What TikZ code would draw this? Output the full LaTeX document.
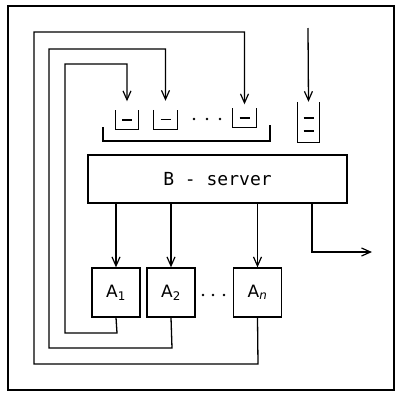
\documentclass[tikz,border=0pt]{standalone}
\usepackage{fontspec}
\setmainfont{DejaVu Sans}
\newfontfamily\monofnt{DejaVu Sans Mono}
\usetikzlibrary{arrows.meta}
\begin{document}
\begin{tikzpicture}[x=1pt,y=-1pt,
  ln/.style={line width=1.3pt,black},
  arr/.style={ln,-{Straight Barb[length=9pt,width=8pt,line width=1.2pt]}},
  qbox/.style={draw=none,inner sep=0pt,minimum width=23pt,minimum height=19pt},
  abox/.style={draw,line width=1.3pt,inner sep=0pt,minimum width=48pt,minimum height=49pt,font=\fontsize{17}{17}\selectfont},
  dotc/.style={circle,fill=black,inner sep=0pt,minimum size=2.8pt}]
\useasboundingbox (0,0) rectangle (397,394);
\draw[ln] (8,6) rectangle (394,390);
% queues
\node[qbox] (q1) at (127,120) {};
\node[qbox] (q2) at (165.5,119.5) {};
\node[qbox] (qn) at (244.5,118) {};
\node[qbox,minimum width=21pt,minimum height=40pt] (qe) at (308.5,122) {};
\foreach \q in {q1,q2,qn,qe}{
  \draw[ln] (\q.north west) |- (\q.south east) -- (\q.north east);
}
\foreach \q in {q1,q2,qn}{
  \draw[ln] ([xshift=-5pt]\q.center) -- ([xshift=5pt]\q.center);
}
\draw[ln] ([xshift=-5pt,yshift=4pt]qe.center) -- ([xshift=5pt,yshift=4pt]qe.center);
\draw[ln] ([xshift=-5pt,yshift=-9pt]qe.center) -- ([xshift=5pt,yshift=-9pt]qe.center);
% bracket under queues
\coordinate (bl) at (103,127);
\coordinate (br) at (270,125);
\draw[ln] (bl) |- (270,141) -- (br);
% dots between queues
\node[dotc] (qd1) at (194,119) {};
\node[dotc] (qd2) at (207,119) {};
\node[dotc] (qd3) at (220,119) {};
% B-server
\node[draw,line width=1.3pt,minimum width=259pt,minimum height=48pt,inner sep=0pt,
  font=\monofnt\fontsize{18}{18}\selectfont] (B) at (217.5,179) {B - server};
% processors
\node[abox] (A1) at (116,292.5) {A\textsubscript{1}};
\node[abox] (A2) at (171,292.5) {A\textsubscript{2}};
\node[abox] (An) at (257.5,292.5) {A\textsubscript{\itshape n}};
\node[dotc] (ad1) at (203,295) {};
\node[dotc] (ad2) at (213,295) {};
\node[dotc] (ad3) at (224,295) {};
% B to processors
\draw[arr] (B.south -| A1.north) -- (A1.north);
\draw[arr] (B.south -| A2.north) -- (A2.north);
\draw[arr] (B.south -| An.north) -- (An.north);
% output
\coordinate (out) at (372,252);
\draw[arr] (312,203) |- (out);
% external input
\coordinate (in) at (308,28);
\draw[arr] (in) -- (qe.north);
% feedback loops
\draw[arr] (A1.south) -- (117,333) -| (65,64) -| ([yshift=9pt]q1.north);
\draw[arr] (A2.south) -- (172,348) -| (49,49) -| ([yshift=9pt]q2.north);
\draw[arr] (An.south) -- (258,364) -| (34,32) -| ([yshift=4pt]qn.north);
\end{tikzpicture}
\end{document}
